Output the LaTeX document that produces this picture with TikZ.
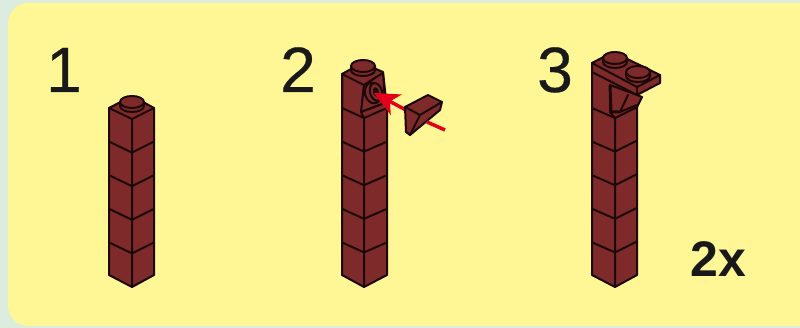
\documentclass[tikz,border=0pt]{standalone}
\usepackage{fontspec}
\setmainfont{Liberation Sans}
\newfontfamily\numfont[FakeBold=0.4]{Liberation Sans}
\definecolor{bgteal}{RGB}{220,236,222}
\definecolor{bgyellow}{RGB}{255,246,150}
\definecolor{brickred}{RGB}{126,42,42}
\definecolor{brickline}{RGB}{28,8,8}
\definecolor{arrowred}{RGB}{226,0,26}
\usetikzlibrary{arrows.meta}
\begin{document}
\begin{tikzpicture}[x=1pt,y=-1pt,
  brick/.style={draw=brickline,fill=brickred,line width=2pt,line join=round},
  brickedge/.style={draw=brickline,line width=2pt,line cap=round,line join=round},
  stepnum/.style={font=\numfont\fontsize{64}{64}\selectfont,text=black!90,inner sep=0pt,anchor=base},
  redarr/.style={draw=arrowred,line width=3.5pt}
]
  \useasboundingbox (0,0) rectangle (800,328);
  % Background
  \fill[bgteal] (0,0) rectangle (800,328);
  \fill[bgyellow,rounded corners=20pt] (8,3) rectangle (830,326);

  % Step numbers
  \node[stepnum] (numone) at (64,92) {1};
  \node[stepnum] (numtwo) at (298,92) {2};
  \node[stepnum] (numthree) at (555,92) {3};
  \node[font=\fontsize{50}{50}\selectfont\bfseries,text=black!90,inner sep=0pt,anchor=base] (count) at (718,277) {2x};

  % Column 1
  \draw[brick] (109,108) -- (132,96) -- (154,108) -- (154,275) -- (132,287) -- (109,275) -- cycle;
  \draw[brickedge] (109,108) -- (132,119) -- (154,108) (132,119) -- (132,287);
  \foreach \yy in {33.6,67.2,100.8,134.4}
    \draw[brickedge] (109,108+\yy) -- (132,119+\yy) -- (154,108+\yy);
  \draw[brick] (120,102) -- (120,106) arc[start angle=180,end angle=360,x radius=12,y radius=-6] -- (144,102) -- cycle;
  \draw[brick] (132,102) ellipse[x radius=12,y radius=6];

  % Column 2
  \draw[brick] (342,74) -- (362,63) -- (383,72) -- (387,108) -- (387,275) -- (364,287) -- (342,275) -- cycle;
  \draw[brickedge] (342,74) -- (364,85) -- (383,73) (364,118) -- (364,287);
  \draw[brickedge] (342,74) -- (342,108) -- (364,118);
  \foreach \yy in {33.6,67.2,100.8,134.4}
    \draw[brickedge] (342,108+\yy) -- (364,118+\yy) -- (387,108+\yy);
  % bracket face and plate on column 2
  \draw[brick] (364,85) -- (383,73) -- (385,103) -- (361,112) -- cycle;
  \draw[brick] (361,112) -- (385,103) -- (387,108) -- (364,118) -- cycle;
  \draw[brick,rotate around={15:(373,93)}] (373,93) ellipse[x radius=8,y radius=10.5];
  \draw[brick,rotate around={15:(376,92)}] (376,92) ellipse[x radius=6,y radius=9];
  \fill[brickline,rotate around={15:(376,92)}] (376,92) ellipse[x radius=3,y radius=5];
  \draw[brick] (351,66) -- (351,70) arc[start angle=180,end angle=360,x radius=12,y radius=-6] -- (375,66) -- cycle;
  \draw[brick] (363,66) ellipse[x radius=12,y radius=6];

  % Red arrow, wedge and tail
  \coordinate (arrtip) at (374,93);
  \coordinate (arrstart) at (406,110);
  \draw[redarr,-{Stealth[length=25pt,width=23pt,inset=7pt]}] (arrstart) -- (arrtip);
  \draw[brick] (405,107) -- (428,95) -- (442,102) -- (440,110) -- (410,135) -- (406,132) -- cycle;
  \draw[brickedge] (405,107) -- (420,115) -- (442,102) (420,115) -- (410,135);
  \coordinate (tailin) at (427,122);
  \coordinate (tailout) at (445,130);
  \draw[redarr] (tailin) -- (tailout);

  % Column 3
  \draw[brick] (592,70) -- (637,95) -- (637,275) -- (615,287) -- (592,275) -- cycle;
  \draw[brickedge] (592,108) -- (615,118) -- (637,107) (615,118) -- (615,287);
  \foreach \yy in {33.6,67.2,100.8,134.4}
    \draw[brickedge] (592,108+\yy) -- (615,118+\yy) -- (637,107+\yy);
  % brace under the plate
  \draw[brick] (610,85) -- (637,95) -- (642,97) -- (637,107) -- (615,118) -- (610,112) -- cycle;
  \draw[brickedge] (628,95) -- (620,112) -- (637,105);
  \draw[brickline,line width=3pt,line cap=round] (610,86) -- (611,112) -- (620,112);
  % plate
  \draw[brick] (592,63) -- (613,52) -- (660,75) -- (660,83) -- (637,95) -- (592,72) -- cycle;
  \draw[brickedge] (592,63) -- (637,87) -- (660,75) (637,87) -- (637,95);
  \foreach \xx/\yy in {615/58,638/72}{
    \draw[brick] (\xx-12,\yy) -- (\xx-12,\yy+4) arc[start angle=180,end angle=360,x radius=12,y radius=-6] -- (\xx+12,\yy) -- cycle;
    \draw[brick] (\xx,\yy) ellipse[x radius=12,y radius=6];
  }
\end{tikzpicture}
\end{document}
